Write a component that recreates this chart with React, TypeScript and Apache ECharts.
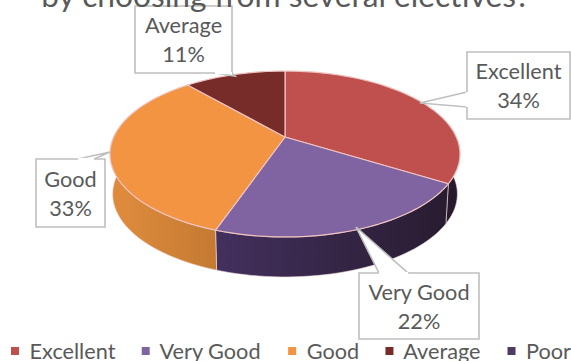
import React, { useEffect, useRef } from "react";
import * as echarts from "echarts";

const categories = ["Excellent", "Very Good", "Good", "Average", "Poor"];
const percents = [33.8, 21.5, 33.3, 11.4, 0];
const topColors = ["#c0504d", "#8064a2", "#f29441", "#772c2a", "#4d3b62"];
const sideLeft = ["#2f2035", "#43305e", "#dd8a3c", "#5a2120", "#3a2c4c"];
const sideRight = ["#261a2c", "#281c30", "#c47a32", "#4a1a19", "#2f2340"];
const titleText = "by choosing from several electives?";

// layout of the callouts: [left, top, right, bottom], then the tail's three points
const callouts: Record<string, { box: number[]; tail: number[][] }> = {
  Excellent: { box: [467, 52, 570, 119], tail: [[467, 92], [420, 103], [467, 107]] },
  "Very Good": { box: [359, 273, 479, 339], tail: [[379, 273], [356, 227], [408, 273]] },
  Good: { box: [36, 159, 105, 227], tail: [[78, 159], [110, 152], [94, 159]] },
  Average: { box: [135, 6, 232, 73], tail: [[215, 73], [235, 76], [232, 73]] },
};

// Perspective projection of the unit circle
const HUB_X = 285, HUB_Y = 137, PX = 171.3, PY = 79.5, P = 0.2048, DEPTH = 40;
const project = (deg: number, dy = 0, k = 1) => {
  const a = (deg * Math.PI) / 180;
  const u = Math.sin(a), v = -Math.cos(a);
  const d = 1 - P * v;
  return [HUB_X + (k * PX * u) / d, HUB_Y + (PY * v) / d + dy];
};
const arcPoints = (a0: number, a1: number, dy = 0, k = 1) => {
  const n = Math.max(2, Math.ceil(Math.abs(a1 - a0) / 2));
  const pts: number[][] = [];
  for (let i = 0; i <= n; i++) pts.push(project(a0 + ((a1 - a0) * i) / n, dy, k));
  return pts;
};

const total = percents.reduce((s, v) => s + v, 0);
const startAngles: number[] = [];
percents.reduce((s, v, i) => {
  startAngles[i] = (s / total) * 360;
  return s + v;
}, 0);

// The wall shows from the rim's right extreme round the front to its left extreme
const WALL_FROM = 78, WALL_TO = 282;

const renderSlice = (i: number) => (_: any, api: any) => {
  const value = api.value(0);
  const a0 = startAngles[i];
  const a1 = a0 + (value / total) * 360;
  const children: any[] = [];
  const name = categories[i];

  if (value > 0) {
    const w0 = Math.max(a0, WALL_FROM), w1 = Math.min(a1, WALL_TO);
    if (w1 > w0) {
      const topArc = arcPoints(w0, w1);
      const botArc = arcPoints(w1, w0, DEPTH, 0.985);
      const l = project(w1), r = project(w0);
      children.push({
        type: "polygon",
        z2: 1,
        shape: { points: [...topArc, ...botArc] },
        style: {
          fill: new echarts.graphic.LinearGradient(
            Math.min(l[0], r[0]), 0, Math.max(l[0], r[0]), 0,
            [
              { offset: 0, color: sideLeft[i] },
              { offset: 1, color: sideRight[i] },
            ],
            true
          ),
          stroke: "#f3dfe0",
          lineWidth: 0.6,
        },
      });
    }
    children.push({
      type: "polygon",
      z2: 2,
      shape: { points: [[HUB_X, HUB_Y], ...arcPoints(a0, a1)] },
      style: { fill: topColors[i], stroke: "#eec3c0", lineWidth: 1.2, lineJoin: "round" },
    });
  }

  const c = callouts[name];
  if (c && value > 0) {
    const [x0, y0, x1, y1] = c.box;
    children.push({
      type: "polygon",
      z2: 10,
      shape: { points: c.tail },
      style: { fill: "#ffffff", stroke: "#bfbfbf", lineWidth: 1.6 },
    });
    children.push({
      type: "rect",
      z2: 11,
      shape: { x: x0, y: y0, width: x1 - x0, height: y1 - y0 },
      style: { fill: "#ffffff", stroke: "#bfbfbf", lineWidth: 1.6 },
    });
    const a = c.tail[0], b = c.tail[2];
    children.push({
      type: "line",
      z2: 12,
      shape: { x1: a[0], y1: a[1], x2: b[0], y2: b[1] },
      style: { stroke: "#ffffff", lineWidth: 2.2 },
    });
    children.push({
      type: "text",
      z2: 13,
      style: {
        x: (x0 + x1) / 2,
        y: (y0 + y1) / 2,
        text: `${name}\n${Math.round(value)}%`,
        align: "center",
        verticalAlign: "middle",
        fill: "#595959",
        font: "21.7px Lato",
        lineHeight: 29,
      },
    });
  }
  return { type: "group", children };
};

export default function App() {
  const ref = useRef<HTMLDivElement>(null);
  useEffect(() => {
    document.body.style.margin = "0";
    const chart = echarts.init(ref.current!, null, { renderer: "svg" });
    chart.setOption({
      animation: false,
      backgroundColor: "#ffffff",
      title: {
        text: titleText,
        left: "center",
        top: -21,
        padding: 0,
        textStyle: { fontFamily: "Lato", fontSize: 31.7, fontWeight: "normal", color: "#595959" },
      },
      legend: {
        data: categories,
        left: 11,
        top: 340,
        width: 700,
        padding: 0,
        itemWidth: 8,
        itemHeight: 8,
        itemGap: 26.3,
        icon: "rect",
        selectedMode: false,
        formatter: (n: string) => " " + n,
        textStyle: { fontFamily: "Lato", fontSize: 21.7, color: "#595959", padding: 0 },
      },
      xAxis: { show: false, type: "value", min: 0, max: 1 },
      yAxis: { show: false, type: "value", min: 0, max: 1 },
      grid: { left: 0, right: 0, top: 0, bottom: 0 },
      series: categories.map((name, i) => ({
        type: "custom",
        name,
        coordinateSystem: "none",
        clip: false,
        data: [[percents[i]]],
        itemStyle: { color: topColors[i] },
        renderItem: renderSlice(i),
      })),
    });
    return () => chart.dispose();
  }, []);
  return <div ref={ref} style={{ width: 571, height: 361 }} />;
}
